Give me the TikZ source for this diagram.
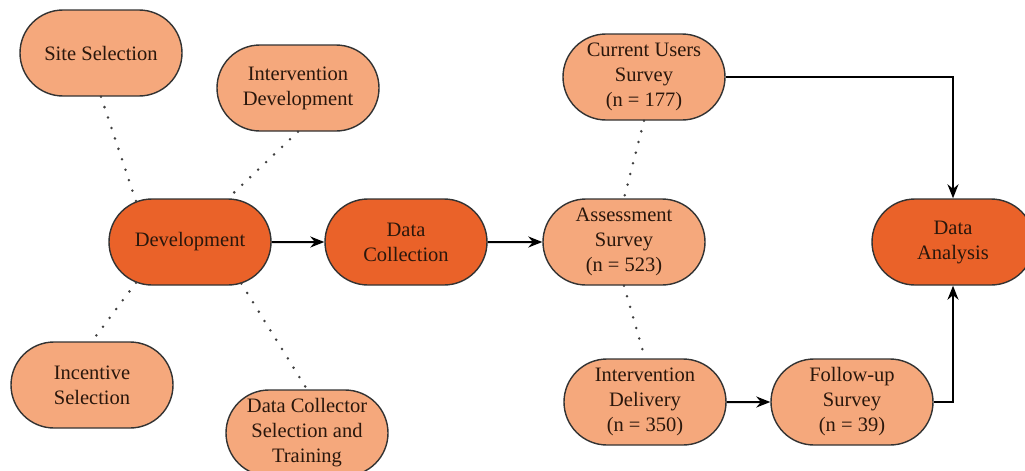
\documentclass[tikz,border=0pt]{standalone}
\usepackage{fontspec}
\setmainfont{Liberation Serif}
\usepackage{xcolor}
\usepackage{tikz}
\usetikzlibrary{arrows.meta, shapes.misc}
\definecolor{lightorange}{HTML}{F5A87C}
\definecolor{darkorange}{HTML}{EA6229}
\definecolor{inkbrown}{HTML}{2A170C}

\begin{document}
\begin{tikzpicture}[x=1pt, y=-1pt,
	stage/.style={rounded rectangle, draw=black!80, line width=1.4pt, minimum width=162pt, minimum height=86pt, inner sep=0pt, align=center, text=inkbrown, font=\fontsize{20.5}{25}\selectfont},
	light/.style={stage, fill=lightorange},
	dark/.style={stage, fill=darkorange},
	dots/.style={black!75, line width=2.8pt, dash pattern=on 0pt off 11pt, line cap=round},
	flow/.style={line width=2pt, -{Stealth[length=14pt, width=11pt]}}]
	\useasboundingbox (0,0) rectangle (1025,471);
	\foreach \name/\pos/\lab in {site/{101,53}/Site Selection, intdev/{298,88}/Intervention\\Development, inc/{92,385}/Incentive\\Selection, dcs/{307,433}/Data Collector\\Selection and\\Training, cur/{644,77}/Current Users\\Survey\\(n = 177), ass/{624,242}/Assessment\\Survey\\(n = 523), del/{645,402}/Intervention\\Delivery\\(n = 350), fol/{852,402}/Follow-up\\Survey\\(n = 39)}
	{
		\node[light](\name) at (\pos){\lab};
	}
	\node[dark](dev) at (190,242){Development};
	\node[dark](col) at (406,242){Data\\Collection};
	\node[dark](ana) at (953,242){Data\\Analysis};
	\draw[dots](site.south) -- (dev.143);
	\draw[dots](intdev.south) -- (dev.49);
	\draw[dots](dev.217) -- (inc.north);
	\draw[dots](dev.321) -- (dcs.north);
	\draw[dots](cur.south) -- (ass.north);
	\draw[dots](ass.south) -- (del.north);
	\draw[flow](dev) -- (col);
	\draw[flow](col) -- (ass);
	\draw[flow](del) -- (fol);
	\draw[flow](cur) -| (ana);
	\draw[flow](fol) -| (ana);
\end{tikzpicture}
\end{document}
